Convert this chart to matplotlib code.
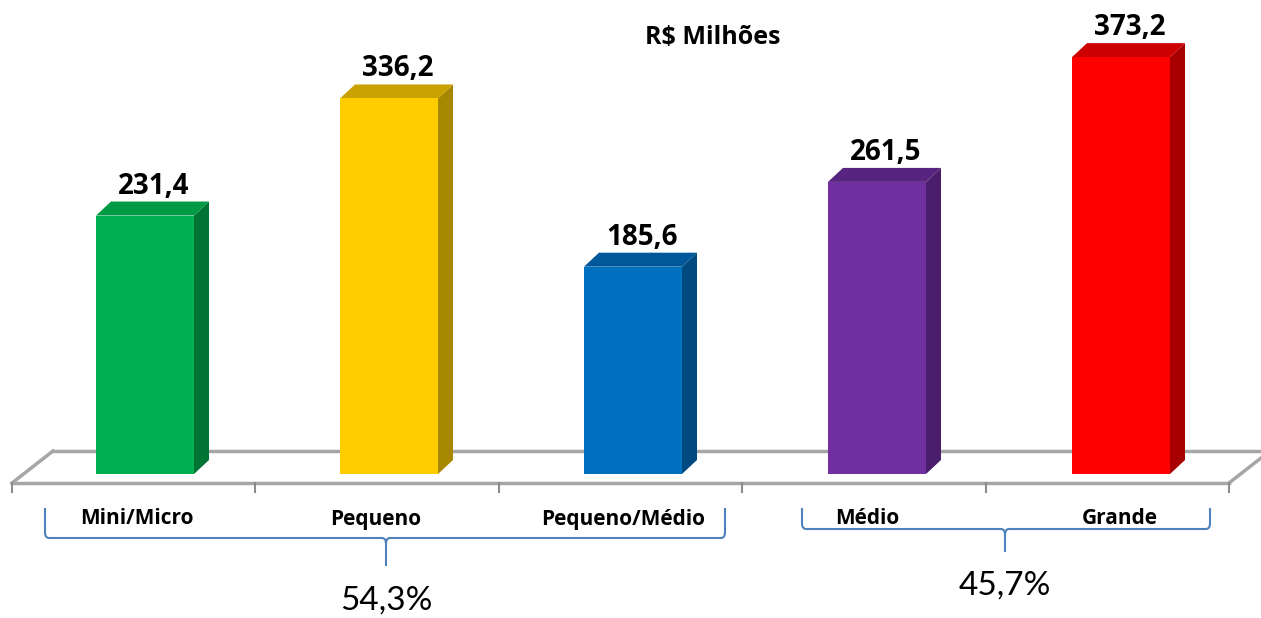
import matplotlib
matplotlib.use("Agg")
import matplotlib.pyplot as plt
from matplotlib.patches import Polygon, Rectangle, PathPatch
from matplotlib.path import Path

categories = ["Mini/Micro", "Pequeno", "Pequeno/Médio", "Médio", "Grande"]
values = [231.4, 336.2, 185.6, 261.5, 373.2]
value_labels = ["231,4", "336,2", "185,6", "261,5", "373,2"]
front_colors = ["#00b050", "#ffcc00", "#0070c0", "#7030a0", "#ff0000"]
top_colors = ["#009a45", "#c9a100", "#00589a", "#57247f", "#cc0000"]
side_colors = ["#007433", "#a88700", "#004a80", "#4a1e6b", "#a80000"]
title = "R$ Milhões"
group_labels = ["54,3%", "45,7%"]

BOLD_FONT = ["Open Sans", "DejaVu Sans"]
REG_FONT = ["Lato", "DejaVu Sans"]

W, H = 1261, 618
fig = plt.figure(figsize=(W / 100, H / 100), dpi=100)
ax = fig.add_axes([0, 0, 1, 1])
# mapping: x_px = 145 + 244*i ; y_px = 474 - 1.117*v
px_per_cat = 244.0
px_per_val = 1.117
ax.set_xlim(-145 / px_per_cat, (W - 145) / px_per_cat)
ax.set_ylim(-(H - 474) / px_per_val, 474 / px_per_val)
ax.axis("off")


def dxp(p):
    return p / px_per_cat


def dyp(p):
    return p / px_per_val


def px2x(p):
    return (p - 145) / px_per_cat


def px2y(p):
    return (474 - p) / px_per_val


# floor (parallelogram)
floor_front_y = dyp(-9)
floor_back_y = dyp(23)
fl_x0 = px2x(12)
fl_x1 = px2x(1229)
shift = dxp(41)
floor_col = "#a6a6a6"
ax.plot([fl_x0 + shift, fl_x1 + shift + dxp(10)], [floor_back_y, floor_back_y],
        color=floor_col, lw=2.5, zorder=1, solid_capstyle="butt")
ax.plot([fl_x0, fl_x1], [floor_front_y, floor_front_y], color=floor_col, lw=2.5, zorder=1)
ax.plot([fl_x0, fl_x0 + shift], [floor_front_y, floor_back_y], color=floor_col, lw=2.5, zorder=1)
ax.plot([fl_x1, fl_x1 + shift], [floor_front_y, floor_back_y], color=floor_col, lw=2.5, zorder=1)
n = len(categories)
for k in range(n + 1):
    tx = fl_x0 + (fl_x1 - fl_x0) * k / n
    ax.plot([tx, tx], [floor_front_y, floor_front_y - dyp(9)], color="#8c8c8c", lw=1.5, zorder=1)

# 3D bars
bw = 98 / px_per_cat
ddx = dxp(15)
ddy = dyp(14)
for i, (v, fc, tc, sc) in enumerate(zip(values, front_colors, top_colors, side_colors)):
    x0 = i - bw / 2
    x1 = i + bw / 2
    ax.add_patch(Polygon([(x1, 0), (x1 + ddx, ddy), (x1 + ddx, v + ddy), (x1, v)], closed=True,
                         facecolor=sc, edgecolor="none", zorder=3))
    ax.add_patch(Polygon([(x0, v), (x1, v), (x1 + ddx, v + ddy), (x0 + ddx, v + ddy)], closed=True,
                         facecolor=tc, edgecolor="none", zorder=3))
    ax.add_patch(Rectangle((x0, 0), bw, v, facecolor=fc, edgecolor="none", zorder=4))
    ax.text(i + dxp(9), v + dyp(22), value_labels[i], ha="center", va="baseline",
            fontsize=20, fontweight="bold", family=BOLD_FONT, color="black", zorder=5)

# category labels
label_off = [-8, -13, -10, -10, -1]
for i, c in enumerate(categories):
    ax.text(i + dxp(label_off[i]), px2y(519), c, ha="center", va="center",
            fontsize=15, fontweight="bold", family=BOLD_FONT, color="black")

# title
ax.text(px2x(713), px2y(37), title, ha="center", va="center",
        fontsize=18, fontweight="bold", family=BOLD_FONT, color="black")

# braces
brace_col = "#4f81bd"


def brace(xl, xr, xm, y_top, y_line, y_tip):
    cx = dxp(4)
    cy = dyp(6)
    verts = [
        (xl, y_top), (xl, y_line + cy), (xl, y_line), (xl + cx, y_line),
        (xm - cx, y_line), (xm, y_line), (xm, y_line - cy), (xm, y_tip),
        (xm, y_line - cy), (xm, y_line), (xm + cx, y_line),
        (xr - cx, y_line), (xr, y_line), (xr, y_line + cy), (xr, y_top),
    ]
    codes = [Path.MOVETO, Path.LINETO, Path.CURVE3, Path.CURVE3,
             Path.LINETO, Path.CURVE3, Path.CURVE3, Path.LINETO,
             Path.MOVETO, Path.CURVE3, Path.CURVE3,
             Path.LINETO, Path.CURVE3, Path.CURVE3, Path.LINETO]
    ax.add_patch(PathPatch(Path(verts, codes), facecolor="none", edgecolor=brace_col,
                           lw=1.5, zorder=2))


brace(px2x(45), px2x(725), px2x(386), px2y(508), px2y(538), px2y(566))
brace(px2x(802), px2x(1210), px2x(1005), px2y(508), px2y(529), px2y(552))

ax.text(px2x(386), px2y(601), group_labels[0], ha="center", va="center",
        fontsize=24, family=REG_FONT, color="black")
ax.text(px2x(1005), px2y(586), group_labels[1], ha="center", va="center",
        fontsize=24, family=REG_FONT, color="black")

fig.savefig("out.png", dpi=100)
